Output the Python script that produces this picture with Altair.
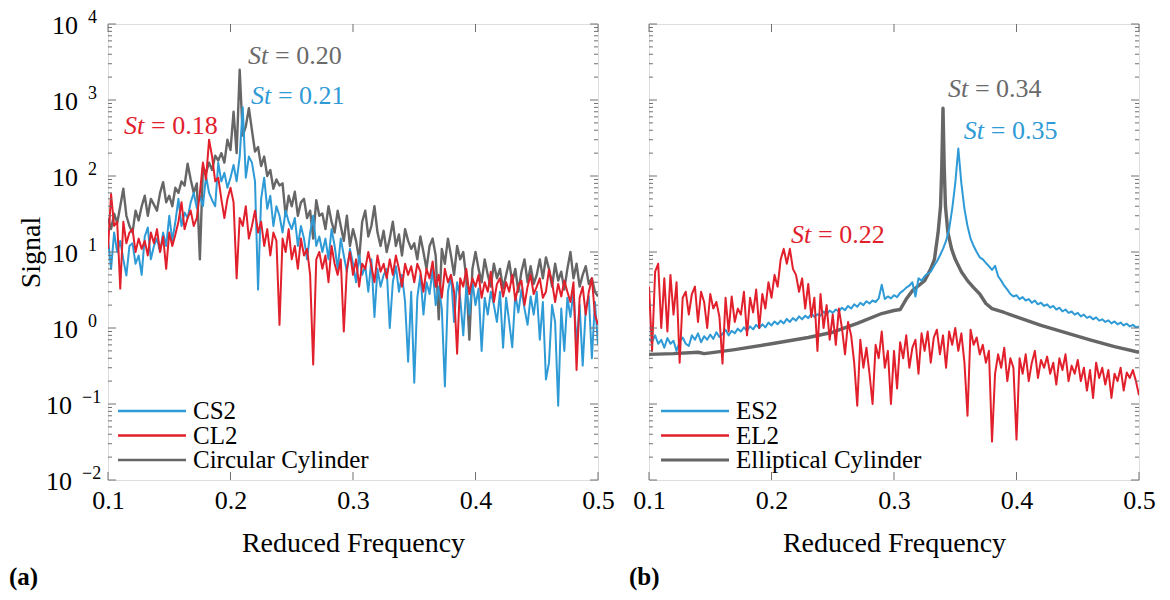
import altair as alt
import pandas as pd

FONT = "Liberation Serif, Times New Roman, serif"

# frequency grid of the noisy spectra (step 0.0025 from 0.1 to 0.5)
FREQ = [round(0.1 + 0.0025 * i, 4) for i in range(161)]

# ---------------- panel (a) ----------------
CIRC = [
    28, 20, 32, 24, 40, 68, 30, 22, 18, 35,
    26, 40, 55, 30, 50, 42, 35, 60, 83, 45,
    55, 40, 70, 60, 85, 75, 145, 90, 60, 80,
    8, 130, 110, 150, 120, 185, 160, 200, 150, 300,
    220, 700, 200, 2500, 340, 450, 780, 400, 210, 240,
    135, 180, 100, 120, 68, 90, 75, 80, 30, 55,
    40, 62, 30, 45, 50, 28, 35, 15, 48, 30,
    32, 20, 40, 25, 18, 35, 22, 14, 30, 12,
    20, 14, 8, 25, 35, 16, 22, 40, 18, 12,
    19, 10, 15, 25, 12, 17, 9, 20, 14, 11,
    13, 8, 16, 10, 6, 12, 15, 9, 1.3, 11,
    7, 15, 9, 5, 12, 8, 10, 4.5, 0.7, 6,
    10, 6, 4, 8, 5, 3.5, 7, 4.5, 6, 3.3,
    5, 7.5, 4, 6, 3, 5.5, 8, 4, 6.5, 3.8,
    5, 8, 4.5, 8.5, 6, 3.5, 7, 4.2, 5.5, 3.2,
    6, 10, 4.5, 7, 3.5, 5, 6.5, 3.8, 4.5, 3,
    2.6,
]
CS2 = [
    15, 6, 18, 10, 14, 8, 4.9, 12, 13, 7,
    9, 5, 16, 21, 8, 12, 15, 10, 18, 12,
    30, 14, 25, 50, 22, 33, 28, 45, 60, 38,
    55, 40, 100, 60, 48, 40, 150, 85, 110, 70,
    95, 140, 85, 180, 800, 95, 180, 150, 85, 3.2,
    50, 95, 37, 55, 22, 40, 30, 18, 35, 25,
    20, 28, 12, 22, 15, 8, 18, 30, 12, 16,
    10, 15, 8, 20, 12, 6, 15, 9, 5.5, 11,
    7, 4, 9, 5, 6.5, 3, 8, 1.4, 6, 3.5,
    5, 6, 1.0, 4, 6.5, 3, 5, 2.2, 0.36, 3,
    0.19, 2.5, 5, 1.5, 4, 2.8, 6, 2, 3.5, 1.8,
    0.17, 3, 5, 1.2, 4, 2.5, 0.8, 3.5, 1.5, 4,
    2, 3.3, 0.5, 2.5, 1.5, 3, 2, 1.2, 3, 0.55,
    2.5, 1.2, 0.56, 2.8, 1.6, 3.2, 1.8, 1.1, 2.6, 1.5,
    3, 0.7, 2.2, 0.21, 0.35, 2, 1.2, 0.095, 1.8, 0.5,
    2.5, 1.4, 3, 0.6, 2, 0.32, 1.8, 2.6, 0.4, 2.2,
    0.6,
]
CL2 = [
    11, 58, 22, 25, 3.3, 25, 13, 18, 20, 10,
    15, 11, 14, 9, 18, 13, 20, 10, 16, 6,
    18, 12, 17, 25, 45, 20, 28, 35, 22, 28,
    60, 150, 90, 300, 180, 85, 95, 50, 28, 50,
    70, 45, 4.5, 28, 22, 40, 15, 22, 35, 18,
    25, 12, 20, 9, 18, 14, 1.1, 15, 10, 20,
    8, 12, 6, 15, 9, 11, 5, 0.33, 8, 10,
    6, 9, 4, 12, 7, 5, 8, 0.9, 6, 10,
    5, 8, 3.5, 7, 6, 10, 6.5, 4, 9, 5.5,
    7, 4.5, 8, 5, 9, 6, 3.5, 7, 5, 6.5,
    4, 7, 5.5, 3, 6, 4.5, 7.5, 3.5, 5, 2.5,
    6, 4, 5, 3, 0.46, 4.5, 3.5, 6, 2.8, 4.5,
    3.5, 5, 2.5, 4, 3, 5.5, 2.2, 3.8, 4.5, 2.6,
    4, 3, 5, 2.3, 3.6, 4.2, 2, 3.5, 5, 2.8,
    3.5, 4.5, 2.5, 3, 5.9, 4, 2.2, 3.8, 2.6, 4.2,
    3, 2.2, 4, 0.28, 2.5, 3.5, 1.5, 3, 4.5, 1.5,
    1.1,
]

# ---------------- panel (b) ----------------
ES2 = [
    0.72, 0.66, 0.80, 0.62, 0.70, 0.55, 0.74, 0.62, 0.68, 0.50,
    0.66, 0.75, 0.62, 0.58, 0.80, 0.70, 0.85, 0.65, 0.78, 0.70,
    0.82, 0.72, 0.88, 0.76, 0.84, 0.95, 0.80, 0.92, 0.85, 0.98,
    0.90, 1.02, 0.92, 1.05, 0.96, 1.10, 1.00, 1.12, 1.02, 1.18,
    1.08, 1.22, 1.12, 1.25, 1.15, 1.32, 1.20, 1.35, 1.25, 1.42,
    1.30, 1.45, 1.35, 1.55, 1.40, 1.52, 1.45, 1.65, 1.50, 1.70,
    1.58, 1.75, 1.65, 1.85, 1.72, 1.95, 1.80, 2.05, 1.90, 2.15,
    2.00, 2.25, 2.10, 2.30, 2.20, 2.45, 3.70, 2.40, 2.60, 2.45,
    2.70, 2.55, 2.90, 3.10, 3.40, 3.60, 4.00, 2.60, 4.50, 4.20,
    4.8, 5.2, 5.5, 6.5, 7.5, 9, 11, 14, 20, 37,
    80, 230, 80, 37, 22, 15, 12, 10, 8.5, 8,
    7.2, 6.5, 5.8, 6.6, 4.8, 4.2, 3.6, 3.2, 2.8, 2.6,
    2.7, 2.4, 2.55, 2.3, 2.4, 2.15, 2.3, 2.05, 2.15, 1.95,
    2.05, 1.85, 1.95, 1.75, 1.85, 1.65, 1.75, 1.58, 1.65, 1.50,
    1.58, 1.42, 1.50, 1.36, 1.42, 1.30, 1.38, 1.25, 1.30, 1.20,
    1.26, 1.15, 1.22, 1.12, 1.18, 1.08, 1.14, 1.05, 1.10, 1.02,
    1.05,
]
EL2 = [
    3.5, 0.5, 5.5, 7, 1.0, 4.5, 0.9, 5, 1.5, 4,
    0.35, 2.5, 3, 1.5, 2.8, 3.5, 1.2, 3, 2.2, 1.0,
    2.8, 1.8, 2.2, 1.4, 0.34, 2.5, 0.9, 2.6, 1.2, 1.8,
    1.5, 3, 0.8, 2.5, 1.6, 3.2, 1.0, 2.8, 1.8, 4,
    2.5, 5, 3.5, 8, 11, 7, 11, 6, 5, 3,
    4.5, 1.8, 3.8, 1.4, 2.5, 0.5, 2.8, 1.0, 2.0, 0.7,
    1.5, 0.6, 1.8, 1.0, 0.45, 1.2, 0.8, 0.35, 0.095, 0.7,
    0.3, 0.55, 0.25, 0.1, 0.6, 0.4, 0.9, 0.3, 0.5, 0.1,
    0.5, 0.16, 0.65, 0.4, 0.8, 0.3, 0.55, 0.7, 0.25, 0.85,
    0.5, 0.9, 0.35, 0.75, 0.95, 0.45, 0.8, 0.3, 0.9, 0.6,
    1.0, 0.5, 0.85, 0.35, 0.07, 0.95, 0.6, 0.75, 0.45, 0.6,
    0.35, 0.5, 0.032, 0.25, 0.45, 0.3, 0.55, 0.2, 0.4, 0.3,
    0.034, 0.4, 0.25, 0.45, 0.2, 0.35, 0.5, 0.22, 0.38, 0.3,
    0.42, 0.25, 0.35, 0.18, 0.4, 0.28, 0.45, 0.2, 0.32, 0.25,
    0.38, 0.2, 0.3, 0.15, 0.28, 0.12, 0.35, 0.22, 0.3, 0.18,
    0.28, 0.12, 0.25, 0.2, 0.3, 0.15, 0.26, 0.22, 0.28, 0.2,
    0.13,
]
ELL_F = [0.100, 0.120, 0.140, 0.145, 0.150, 0.170, 0.200, 0.230, 0.250, 0.270,
         0.290, 0.300, 0.305, 0.310, 0.315, 0.320, 0.325, 0.330, 0.333, 0.336,
         0.338, 0.339, 0.340, 0.341, 0.342, 0.344, 0.347, 0.350, 0.355, 0.360,
         0.365, 0.370, 0.375, 0.380, 0.390, 0.400, 0.420, 0.440, 0.460, 0.480,
         0.500]
ELL_V = [0.45, 0.46, 0.48, 0.46, 0.47, 0.52, 0.62, 0.75, 0.88, 1.15,
         1.55, 1.7, 1.75, 2.4, 3.1, 3.6, 4.2, 6.0, 8.0, 18,
         40, 130, 780, 130, 40, 18, 11, 8.0, 5.5, 4.2,
         3.4, 2.8, 2.1, 1.8, 1.6, 1.4, 1.08, 0.87, 0.70, 0.57,
         0.48]

BLUE, RED, GRAY = "#2e9ad6", "#e2202c", "#666666"
# annotations: (x, y, label, colour)
ANN_A = [(0.2143, 3790, "= 0.20", "#6a6a6a"),
         (0.2167, 1130, "= 0.21", BLUE),
         (0.1131, 455, "= 0.18", RED)]
ANN_B = [(0.3440, 1400, "= 0.34", "#6a6a6a"),
         (0.3570, 391, "= 0.35", BLUE),
         (0.2160, 16.7, "= 0.22", RED)]

XTICKS = [0.1, 0.2, 0.3, 0.4, 0.5]
YMAJOR_POS = [1, 10, 100, 1000, 10000]
YEXP_POS = ["0", "1", "2", "3", "4"]
YMAJOR_NEG = [0.01, 0.1]
YEXP_NEG = ["\u22122", "\u22121"]
YMAJOR = YMAJOR_NEG + YMAJOR_POS
YMINOR = [m * 10.0 ** k for k in range(-2, 4) for m in range(2, 10)]

FRAME = "#707070"
W, H = 490, 456

xscale = alt.Scale(domain=[0.1, 0.5], nice=False, zero=False)
yscale = alt.Scale(type="log", domain=[0.01, 10000], nice=False)

XAXIS = alt.Axis(values=XTICKS, format=".1f", labelFontSize=26, labelFont=FONT,
                 labelColor="black", ticks=False, domain=False, grid=False,
                 labelPadding=7, title="Reduced Frequency", titleFontSize=28,
                 titleFont=FONT, titleFontWeight="normal", titleColor="black",
                 titlePadding=16, labelFlush=False)
YAXIS_A = alt.Axis(labels=False, ticks=False, domain=False, grid=False,
                   title="Signal", titleFontSize=28, titlePadding=63,
                   titleFont=FONT, titleFontWeight="normal", titleColor="black")


def panel(series, names, colors, widths, ann, tag, show_y, leg_x):
    yaxis = YAXIS_A if show_y else None

    def X(field):
        return alt.X(field, scale=xscale, axis=XAXIS)

    def Y(field):
        return alt.Y(field, scale=yscale, axis=yaxis)

    layers = []
    # draw order: gray first, then blue, then red
    for idx in [2, 0, 1]:
        f, v = series[idx]
        df = pd.DataFrame({"f": f, "v": v})
        layers.append(
            alt.Chart(df).mark_line(strokeWidth=widths[idx], clip=True,
                                    color=colors[idx], strokeJoin="round").encode(
                x=X("f:Q"), y=Y("v:Q"), order=alt.Order("f:Q"))
        )

    # inward ticks (MATLAB style)
    ymaj = pd.DataFrame({"f": [0.1] * len(YMAJOR), "v": YMAJOR})
    ymin = pd.DataFrame({"f": [0.1] * len(YMINOR), "v": YMINOR})
    xt = pd.DataFrame({"f": XTICKS, "v": [1.0] * len(XTICKS)})
    for d, ln in ((ymaj, 8), (ymin, 4)):
        layers.append(alt.Chart(d).mark_rule(color=FRAME, strokeWidth=1).encode(
            y=Y("v:Q"), x=alt.value(0), x2=alt.value(ln)))
        layers.append(alt.Chart(d).mark_rule(color=FRAME, strokeWidth=1).encode(
            y=Y("v:Q"), x=alt.value(W - ln), x2=alt.value(W)))
    layers.append(alt.Chart(xt).mark_rule(color=FRAME, strokeWidth=1).encode(
        x=X("f:Q"), y=alt.value(H), y2=alt.value(H - 8)))
    layers.append(alt.Chart(xt).mark_rule(color=FRAME, strokeWidth=1).encode(
        x=X("f:Q"), y=alt.value(0), y2=alt.value(8)))

    if show_y:
        for vals, exps, xten in ((YMAJOR_POS, YEXP_POS, -30), (YMAJOR_NEG, YEXP_NEG, -36)):
            lab = pd.DataFrame({"v": vals, "e": exps})
            layers.append(alt.Chart(lab).mark_text(align="right", baseline="middle", dy=2,
                                                   fontSize=26, font=FONT, color="black").encode(
                y=Y("v:Q"), x=alt.value(xten), text=alt.value("10")))
            layers.append(alt.Chart(lab).mark_text(align="left", baseline="middle", dy=-6,
                                                   fontSize=18, font=FONT, color="black").encode(
                y=Y("v:Q"), x=alt.value(xten + 10), text="e:N"))

    for (ax, ay, txt, col) in ann:
        d = pd.DataFrame({"f": [ax], "v": [ay], "txt": [txt]})
        layers.append(alt.Chart(d).mark_text(align="left", baseline="middle", fontSize=26,
                                             font=FONT, fontStyle="italic", color=col).encode(
            x=X("f:Q"), y=Y("v:Q"), text=alt.value("St")))
        layers.append(alt.Chart(d).mark_text(align="left", baseline="middle", fontSize=26,
                                             font=FONT, color=col, dx=27).encode(
            x=X("f:Q"), y=Y("v:Q"), text="txt:N"))

    # legend (no box), drawn inside the plot at the bottom left
    for r in range(3):
        d = pd.DataFrame({"name": [names[r]]})
        ly = 387 + 24.5 * r
        layers.append(alt.Chart(d).mark_rule(color=colors[r], strokeWidth=min(widths[r] + 0.3, 2.8)).encode(
            x=alt.value(leg_x), x2=alt.value(leg_x + 68), y=alt.value(ly)))
        layers.append(alt.Chart(d).mark_text(align="left", baseline="middle", fontSize=25,
                                             font=FONT, color="black").encode(
            x=alt.value(leg_x + 75), y=alt.value(ly), text="name:N"))

    tagdf = pd.DataFrame({"t": [tag[0]]})
    layers.append(alt.Chart(tagdf).mark_text(align="left", baseline="middle", fontSize=25,
                                             font=FONT, fontWeight="bold", color="black").encode(
        text="t:N", x=alt.value(tag[1]), y=alt.value(553)))

    return alt.layer(*layers).properties(width=W, height=H)


pa = panel([(FREQ, CS2), (FREQ, CL2), (FREQ, CIRC)],
           ["CS2", "CL2", "Circular Cylinder"], [BLUE, RED, GRAY], [2, 2, 2.4],
           ANN_A, ("(a)", -99), True, 10)
pb = panel([(FREQ, ES2), (FREQ, EL2), (ELL_F, ELL_V)],
           ["ES2", "EL2", "Elliptical Cylinder"], [BLUE, RED, GRAY], [2, 2, 3.4],
           ANN_B, ("(b)", -20), False, 12)

chart = alt.hconcat(pa, pb, spacing=13).configure_view(
    stroke=FRAME, strokeWidth=1.3
).configure(background="white", padding=0)

chart.save("out.html", embed_options={"renderer": "svg", "actions": False})
